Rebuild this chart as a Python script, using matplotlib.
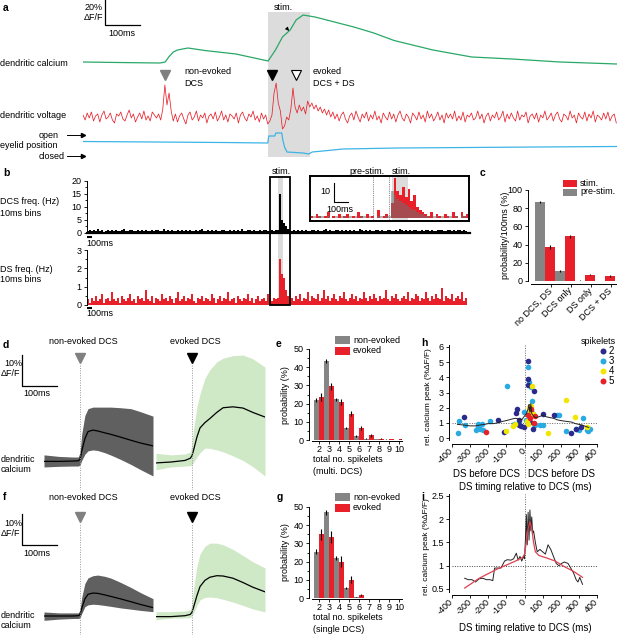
import numpy as np
import matplotlib
matplotlib.use('Agg')
import matplotlib.pyplot as plt
from matplotlib.patches import Rectangle
from matplotlib.lines import Line2D

plt.rcParams['font.family'] = ['Liberation Sans', 'DejaVu Sans']
plt.rcParams['axes.unicode_minus'] = False
plt.rcParams['font.size'] = 6.5

# ======================= DATA =======================
# ---- panel a (time in ms) ----
a_stim = (529, 649)
a_ca_t = [0, 100, 220, 235, 245, 258, 270, 300, 348, 437, 529, 550, 570, 592, 609, 629, 663, 774, 831, 889, 1000, 1111, 1226, 1363, 1526]
a_ca = [0.8, 0.4, 0, 0.8, 4.8, 8.8, 10.4, 12, 10, 7.2, 1.6, 10.4, 20.8, 26.4, 34.4, 38.4, 36.8, 28.8, 24, 18, 10.4, 4.8, 3.2, 0.8, -0.8]
a_v_dt = 6
a_v = [2, -3, 4, -1, 5, -4, 1, 3, -5, 2, 6, -2, 0, 4, -3, -6, 3, 1, 5, -2, -4, 2, 7, -1, 3, -5, 0, 4, -2, 6,
       -3, 1, -4, 5, 2, -1, 3, -3,
       8, 32, 12, 24, 6, -4,
       3, -5, 1, 4, -2, -7, 2, 5, -3, 0, 6, -4, 2, -1, 4, -6, 1, 3, -2, 5, -4, 0, 6, -3, 2, -5, 3, 1, -2, 4,
       -6, 2, 5, -1, -4, 3, 0, 6, -3, 1, -5, 4, -2, 2, -7,
       -4, 2, 24, 34, 14, 6, -12, -9, 0, -3, 8, 29, 10, 4, 12, 6, 10, 3,
       16, 10, 14, 8, 12, 6, 10, 4, 8, 2, 7, 0, 5, -2,
       3, -4, 2, 5, -2, -6, 1, 4, -3, 6, 0, -5, 3, -1, 5, -4, 2, -2, 6, -3,
       1, -6, 4, 0, -3, 5, -2, 3, -5, 2, 6, -1, -4, 3, 0, -6, 4, 1, -3, 5,
       -2, 2, -5, 6, -1, 3, -4, 0, 5, -3, 2, -6, 4, -1, 3, -2, 6, -4, 1, -3,
       5, -5, 2, 0, 4, -3, -1, 6, -2, 3, -6, 1, 4, -4, 2, -1, 5, -3, 0, 6,
       -5, 3, -2, 4, -1, -4, 6, -3, 2, 0, 5, -6, 1, 3, -2, 4, -5, 2, -1, 6,
       -3, 0, 4, -4, 2, 5, -2, -5, 3, 1, -3, 6, -1, 2, -6, 4, 0, -2, 5, -4,
       3, -1, 6, -5, 2, 0, -3, 4, -2, 5, -4, 1, 3, -6]
a_eye_t = [0, 200, 400, 528, 531, 548, 551, 568, 571, 576, 583, 629, 645, 655, 700, 743, 900, 1100, 1300, 1526]
a_eye = [1.5, 1, 0.5, 0, 7, 7, 10, 10, 3, -4, -9, -10, -11, -9, -7.5, -6, -5, -4.5, -4, -3.5]
a_tri_t = [234, 540, 609]

# ---- panel b (40 ms display bins, values in 0.1 Hz) ----
b_bin = 40
b_stim = (3820, 3920)
b_box = (3660, 4060)
b_dcs = [8, 12, 6, 10, 9, 14, 7, 11, 5, 9, 13, 8, 10, 6, 12, 9, 7, 11, 15, 8,
         6, 10, 12, 7, 9, 11, 8, 13, 6, 10, 9, 7, 12, 8, 11, 10, 6, 9, 14, 7,
         10, 8, 12, 9, 6, 11, 7, 13, 9, 10, 8, 12, 6, 9, 11, 7, 10, 15, 8, 9,
         12, 6, 10, 8, 11, 9, 7, 13, 10, 8, 6, 12, 9, 11, 7, 10, 8, 14, 9, 6,
         11, 10, 7, 12, 8, 9, 13, 6, 10, 11, 8, 7, 12, 9, 10,
         10, 150, 50, 40, 25, 15, 12,
         9, 11, 7, 12, 8, 10, 6, 13, 9, 8, 11, 10, 7, 12, 9, 6, 10, 14, 8, 11,
         7, 9, 12, 10, 8, 13, 6, 11, 9, 10, 7, 12, 8, 9, 15, 10, 6, 11, 8, 12,
         9, 7, 10, 13, 8, 11, 9, 6, 12, 10, 8, 9, 11, 7, 14, 10, 8, 12, 9, 11,
         7, 10, 13, 8, 9, 12, 6, 11, 10, 8, 12, 9, 7, 11, 10, 13, 8, 9, 12, 10,
         7, 11, 9, 10, 12, 8, 11, 9]
b_ds = [3, 1, 4, 2, 5, 2, 3, 6, 1, 3, 4, 2, 7, 3, 2, 4, 1, 5, 3, 2,
        4, 6, 2, 3, 1, 5, 3, 4, 2, 8, 3, 2, 5, 1, 4, 3, 2, 6, 3, 4,
        2, 5, 3, 1, 4, 7, 2, 3, 5, 2, 4, 3, 6, 2, 1, 4, 3, 5, 2, 4,
        3, 2, 6, 4, 1, 3, 5, 2, 4, 3, 7, 2, 3, 4, 1, 5, 3, 2, 4, 3,
        6, 2, 4, 1, 3, 5, 2, 3, 4, 2, 6, 3, 2, 4, 3,
        4, 25, 17, 15, 8, 5, 3,
        4, 2, 5, 3, 6, 2, 4, 3, 7, 2, 5, 4, 3, 6, 2, 4, 8, 3, 5, 2,
        4, 6, 3, 2, 5, 4, 7, 3, 2, 4, 6, 3, 5, 2, 4, 3, 7, 4, 2, 5,
        3, 6, 4, 2, 5, 3, 4, 8, 3, 2, 5, 4, 6, 3, 2, 4, 5, 3, 7, 2,
        4, 3, 6, 5, 2, 4, 3, 7, 4, 2, 5, 3, 6, 4, 3, 9, 2, 5, 4, 3,
        6, 2, 4, 5, 3, 7, 2, 4]
# inset (20 ms bins, Hz)
in_bin = 20
in_stim = (586, 700)
in_pre_lines = [450, 564]
in_red = [1, 0, 2, 1, 0, 1, 3, 0, 1, 0, 2, 0, 1, 2, 0, 1, 0, 3, 1, 0, 2, 0, 1, 0, 4, 0, 1, 2, 0,
          8, 21, 14, 12, 16, 11, 15, 9, 12, 6, 4, 3,
          2, 1, 3, 0, 2, 1, 0, 2, 1, 0, 3, 1, 0, 3, 1, 2]
in_gray = [0, 1, 0, 1, 1, 0, 1, 0, 0, 1, 0, 1, 1, 0, 1, 0, 1, 0, 1, 1, 0, 1, 0, 0, 1, 1, 0, 1, 1,
           14, 12, 10, 9, 8, 7, 6, 5, 4, 3, 2, 2,
           1, 1, 0, 1, 1, 0, 1, 0, 1, 1, 0, 1, 0, 1, 1, 0]

# ---- panel c ----
c_cats = ['no DCS, DS', 'DCS only', 'DS only', 'DCS + DS']
c_pre = [87, 11, 0.5, 0.2]
c_pre_err = [1.2, 1.2, 0.3, 0.2]
c_stim = [37, 49, 7, 5.5]
c_stim_err = [2.2, 1.8, 0.8, 0.8]

# ---- panels d / f (time ms, %dF/F) ----
df_t = [-103, -60, -20, -5, 0, 5, 14, 23, 37, 51, 71, 89, 117, 146, 174, 209]
d_non_mean = [0.2, 0.2, 0.3, 0.4, 0.8, 3.5, 7.5, 9.8, 10.3, 10, 9.4, 8.9, 8, 7, 6.1, 5.2]
d_non_hi = [2.3, 1.8, 1.6, 1.6, 3, 9, 15, 17.2, 17.7, 17.7, 17.7, 17.7, 17.5, 17.2, 16.2, 14.8]
d_non_lo = [-1.6, -1.4, -1.3, -1.3, -1, 0.5, 2.5, 3.6, 3.9, 3.7, 3, 2.2, 0.8, -0.8, -2.5, -4.5]
d_evk_mean = [-0.3, 0, 0.5, 1.2, 2, 4, 8, 11, 12.7, 14, 16, 17.5, 17.8, 17.4, 16, 14.5]
d_evk_hi = [2.8, 2.3, 2.6, 3.2, 6, 11, 17.7, 22, 27, 29.7, 32.3, 33.5, 34.3, 34.5, 33.3, 30.6]
d_evk_lo = [-2.5, -1.6, -1.3, -1.2, -1, 0, 1.6, 3, 4.5, 4.4, 3.9, 3.3, 2, 0.5, -1.5, -4.5]
f_non_mean = [0, 0, 0, 0.1, 0.4, 2.5, 5.5, 7, 7.4, 7.3, 6.8, 6.3, 5.5, 4.6, 3.7, 2.7]
f_non_hi = [1.3, 1, 1, 1, 1.8, 6, 10.5, 12.3, 13, 13.2, 12.8, 12.2, 10.8, 9.2, 7.5, 5.6]
f_non_lo = [-1.4, -1, -0.8, -0.8, -0.6, 0.8, 3, 3.6, 3.8, 3.7, 3.4, 3.1, 2.6, 2.2, 1.8, 1.4]
f_evk_mean = [-0.2, -0.2, 0.1, 0.5, 1.2, 3, 6.5, 9.5, 11.5, 12.5, 13, 12.9, 12.2, 10.8, 9.3, 7.8]
f_evk_hi = [1.4, 1.4, 1.6, 2, 4, 9, 16, 20, 22.5, 23.5, 23.5, 23, 21.5, 19.5, 17.5, 15.5]
f_evk_lo = [-1.2, -0.7, -0.6, -0.5, 0, 1, 3.5, 5.2, 6, 6.1, 5.9, 5.4, 4.5, 3.4, 2.3, 1.3]

# ---- panels e / g ----
eg_k = [2, 3, 4, 5, 6, 7, 8, 9, 10]
e_non = [22, 43.5, 22.5, 6.5, 2.2, 0.8, 0.5, 0.2, 0.1]
e_non_err = [1, 1, 0.8, 0.6, 0.4, 0.3, 0.2, 0.1, 0.1]
e_evk = [23.5, 29.5, 21, 14.5, 6.5, 2.5, 0.8, 0.5, 0.3]
e_evk_err = [2.2, 2, 1.8, 1.5, 1, 0.8, 0.3, 0.2, 0.2]
g_non = [25.5, 47, 22, 5.5, 0.3, 0, 0, 0, 0]
g_non_err = [1.2, 1.3, 1, 0.6, 0.2, 0, 0, 0, 0]
g_evk = [35, 33.5, 20, 10, 1.5, 0, 0, 0, 0]
g_evk_err = [3, 3.5, 3, 2, 0.5, 0, 0, 0, 0]

# ---- panel h ----
h_x2 = [-335, -145, -115, -45, -42, -30, -22, -33, 22, 18, 18, 55, 46, 28, 101, 162, 258, 285, 313, 28, 35, -5]
h_y2 = [1.36, 1.18, 0.41, 1.62, 1.89, 1.18, 0.78, 0.88, 5.09, 3.87, 3.5, 3.09, 0.61, 1.08, 1.58, 1.51, 0.35, 0.61, 0.7, 2.1, 1.8, 0.75]
h_x3 = [-360, -365, -330, -265, -255, -245, -235, -230, -190, -95, -60, -30, -5, 20, 25, 35, 40, 45, 50, 60,
        85, 100, 180, 190, 230, 285, 300, 320, 345, 350, 360, -255, 10]
h_y3 = [1.1, 0.35, 0.85, 0.55, 0.9, 0.6, 0.9, 0.55, 1.1, 3.45, 0.9, 1.05, 1.7, 4.7, 3.7, 3.35, 2.45, 1.6, 0.9, 0.85,
        0.85, 0.85, 1.55, 1.5, 0.45, 0.6, 0.55, 1.3, 0.55, 0.45, 0.6, 0.7, 1.2]
h_x4 = [-100, -65, -50, 40, 25, 30, 20, 45, 130, 230, 280, 345, 15, 35]
h_y4 = [0.45, 0.8, 0.95, 3.4, 2.0, 1.7, 0.9, 1.6, 0.35, 2.5, 1.4, 0.7, 1.1, 2.1]
h_x5 = [-210, 30, 50, 60, 20, 35]
h_y5 = [0.4, 1.3, 1.0, 1.45, 1.55, 1.9]
h_line_x = [-370, -330, -300, -270, -250, -220, -200, -170, -150, -120, -100, -70, -50, -30, -15, 0, 10, 20, 25, 30,
            35, 40, 50, 60, 80, 100, 120, 140, 160, 180, 200, 230, 260, 280, 300, 320, 340, 355]
h_line_y = [0.9, 0.85, 0.8, 0.8, 0.85, 0.9, 0.95, 0.95, 1.0, 1.1, 1.15, 1.25, 1.3, 1.25, 1.2, 1.45, 1.6, 1.9, 2.2, 1.7,
            2.25, 1.6, 1.45, 1.35, 1.4, 1.5, 1.4, 1.35, 1.3, 1.2, 1.15, 1.1, 1.05, 0.95, 0.9, 0.85, 0.75, 0.7]

# ---- panel i ----
i_x = [-330, -310, -290, -270, -250, -230, -210, -190, -175, -165, -150, -130, -110, -95, -75, -60, -45, -35, -25, -15,
       -5, 0, 5, 10, 15, 20, 25, 30, 35, 40, 45, 50, 60, 70, 85, 100, 115, 130, 145, 160,
       175, 190, 205, 220, 240, 255, 270, 285, 295, 305, 320]
i_y = [0.73, 0.7, 0.7, 0.65, 0.72, 0.73, 0.7, 0.7, 0.68, 0.95, 0.95, 0.95, 1.1, 1.13, 1.12, 1.15, 1.27, 1.12, 1.2, 1.1,
       1.2, 1.15, 1.55, 2.1, 1.45, 2.15, 1.55, 2.2, 1.75, 2.05, 1.7, 1.75, 1.5, 1.3, 1.35, 1.3, 1.25, 1.45, 1.35, 1.2,
       1.05, 1.0, 1.05, 1.08, 1.05, 0.95, 0.85, 0.7, 0.65, 0.75, 0.6]
i_fit_x = [-330, -250, -150, -50, -10, 0, 10, 20, 30, 40, 50, 60, 80, 120, 170, 220, 270, 320]
i_fit_y = [0.52, 0.73, 0.93, 1.1, 1.18, 1.25, 1.5, 1.8, 1.95, 1.8, 1.5, 1.3, 1.22, 1.17, 1.1, 0.98, 0.88, 0.75]

# ======================= STYLE =======================
RED = '#e8202a'
GREEN = '#2aa868'
EYE = '#3cb4e6'
STIMGRAY = '#dcdcdc'
BARGRAY = '#858585'
NAVY = '#2b2a8c'
LBLUE = '#29abe2'
YEL = '#f2e600'
BANDGRAY = '#606060'
BANDGREEN = '#cfe8c6'

W, H = 617, 635
fig = plt.figure(figsize=(W / 100, H / 100), dpi=100)


def ax_at(x0, y0, x1, y1):
    ax = fig.add_axes([x0 / W, 1 - y1 / H, (x1 - x0) / W, (y1 - y0) / H])
    ax.patch.set_alpha(0)
    return ax


def txt(x, y, s, **kw):
    kw.setdefault('va', 'center')
    fig.text(x / W, 1 - y / H, s, **kw)


def clean(ax):
    for s in ax.spines.values():
        s.set_visible(False)
    ax.set_xticks([])
    ax.set_yticks([])


def style(ax, bottom=True):
    ax.spines['top'].set_visible(False)
    ax.spines['right'].set_visible(False)
    ax.spines['bottom'].set_visible(bottom)
    for s in ax.spines.values():
        s.set_linewidth(0.7)
    ax.tick_params(which='both', length=2.5, width=0.6, labelsize=6.5, pad=1.5)
    ax.tick_params(which='minor', length=1.5)


def panel_label(x, y, s):
    txt(x, y, s, fontsize=7.5, fontweight='bold')

# ======================= PANEL A =======================
A_X0, A_X1 = 83, 617
a_xlim = (0, 1526)
bg = ax_at(A_X0, 12, A_X1, 157)
bg.set_xlim(a_xlim); bg.set_ylim(0, 1)
bg.axvspan(*a_stim, color=STIMGRAY, lw=0)
tri_y = 1 - (75 - 12) / 145
bg.plot([a_tri_t[0]], [tri_y], marker='v', ms=7, color='#808080', ls='')
bg.plot([a_tri_t[1]], [tri_y], marker='v', ms=7, color='k', ls='')
bg.plot([a_tri_t[2]], [tri_y], marker='v', ms=7, mfc='white', mec='k', mew=0.8, ls='')
clean(bg)

ax_ca = ax_at(A_X0, 0, A_X1, 80)
ax_ca.set_xlim(a_xlim); ax_ca.set_ylim(-13.6, 50.4)
ax_ca.plot(a_ca_t, a_ca, color=GREEN, lw=0.9)
ax_ca.plot([63, 63, 163], [50.4, 30.4, 30.4], color='k', lw=0.9, clip_on=False)
ax_ca.annotate('', xy=(594, 24), xytext=(577, 29.5),
               arrowprops=dict(arrowstyle='-|>', color='k', lw=0.6, mutation_scale=5))
clean(ax_ca)

ax_v = ax_at(A_X0, 80, A_X1, 135)
ax_v.set_xlim(a_xlim); ax_v.set_ylim(-18, 37)
ax_v.plot(np.arange(len(a_v)) * a_v_dt, a_v, color=RED, lw=0.55)
clean(ax_v)

ax_e = ax_at(A_X0, 128, A_X1, 160)
ax_e.set_xlim(a_xlim); ax_e.set_ylim(-17, 15)
ax_e.plot(a_eye_t, a_eye, color=EYE, lw=0.9)
clean(ax_e)

panel_label(3, 8, 'a')
txt(103, 8, '20%', ha='right')
txt(103, 18, 'ΔF/F', ha='right')
txt(108, 33, '100ms', ha='left')
txt(283, 7, 'stim.', ha='center')
txt(0, 63, 'dendritic calcium')
txt(0, 116, 'dendritic voltage')
txt(59, 135, 'open', ha='right')
txt(0, 146, 'eyelid position')
txt(65, 156, 'closed', ha='right')
for yy in (135, 156):
    fig.add_artist(Line2D([67 / W, 81 / W], [1 - yy / H] * 2, color='k', lw=0.7))
    fig.add_artist(Line2D([83 / W], [1 - yy / H], marker='>', ms=3, color='k'))
txt(184, 72, 'non-evoked', ha='left')
txt(184, 84, 'DCS', ha='left')
txt(313, 72, 'evoked', ha='left')
txt(313, 84, 'DCS + DS', ha='left')

# ======================= PANEL B =======================
B_X0, B_X1 = 87, 470
b_xlim = (0, 7660)
bgb = ax_at(B_X0, 176, B_X1, 306)
bgb.set_xlim(b_xlim); bgb.set_ylim(0, 1)
bgb.axvspan(*b_stim, color=STIMGRAY, lw=0)
clean(bgb)

ax_b1 = ax_at(B_X0, 178, B_X1, 233)
ax_b1.set_xlim(b_xlim); ax_b1.set_ylim(0, 21.15)
ax_b1.bar(np.arange(len(b_dcs)) * b_bin, np.array(b_dcs) / 10, width=b_bin, align='edge', color='k', lw=0)
style(ax_b1)
ax_b1.spines['bottom'].set_linewidth(1.6)
ax_b1.spines['left'].set_bounds(0, 20)
ax_b1.set_xticks([])
ax_b1.set_yticks([0, 5, 10, 15, 20])
ax_b1.set_yticks(np.arange(0, 20.1, 2.5), minor=True)
ax_b1.plot([0, 100], [-1.4, -1.4], color='k', lw=1.5, clip_on=False, solid_capstyle='butt')

ax_b2 = ax_at(B_X0, 248, B_X1, 306)
ax_b2.set_xlim(b_xlim); ax_b2.set_ylim(-0.055, 3.11)
ax_b2.bar(np.arange(len(b_ds)) * b_bin, np.array(b_ds) / 10, width=b_bin, align='edge', color=RED, lw=0)
style(ax_b2, bottom=False)
ax_b2.spines['left'].set_bounds(0, 3)
ax_b2.set_xticks([])
ax_b2.set_yticks([0, 1, 2, 3])
ax_b2.set_yticks(np.arange(0, 3.01, 0.5), minor=True)
ax_b2.plot([0, 100], [-0.14, -0.14], color='k', lw=1.5, clip_on=False, solid_capstyle='butt')

box = ax_at(B_X0, 176, B_X1, 306)
box.set_xlim(b_xlim); box.set_ylim(0, 1)
box.add_patch(Rectangle((b_box[0], 0.004), b_box[1] - b_box[0], 0.992, fill=False, ec='k', lw=1.3))
clean(box)

panel_label(3, 173, 'b')
txt(281, 171, 'stim.', ha='center')
txt(0, 202, 'DCS freq. (Hz)')
txt(0, 213, '10ms bins')
txt(0, 269, 'DS freq. (Hz)')
txt(0, 280, '10ms bins')
txt(86, 244, '100ms')
txt(86, 314, '100ms')

ax_in = ax_at(310, 176, 469, 221)
ax_in.set_xlim(0, 1140); ax_in.set_ylim(-1.5, 22)
ax_in.axvspan(*in_stim, color=STIMGRAY, lw=0)
for xv in in_pre_lines:
    ax_in.axvline(xv, color='#666666', lw=0.6, ls=(0, (1, 1.2)))
ax_in.bar(np.arange(len(in_red)) * in_bin, in_red, width=in_bin, align='edge', color=RED, lw=0)
ax_in.bar(np.arange(len(in_gray)) * in_bin, in_gray, width=in_bin, align='edge', color='#707070', alpha=0.55, lw=0)
ax_in.plot([171, 171, 271], [18.4, 8.4, 8.4], color='k', lw=0.8)
ax_in.set_xticks([]); ax_in.set_yticks([])
for s in ax_in.spines.values():
    s.set_linewidth(1.4)
txt(320, 192, '10')
txt(326, 209, '100ms')
txt(367, 171, 'pre-stim.', ha='center')
txt(401, 171, 'stim.', ha='center')

# ======================= PANEL C =======================
ax_c = ax_at(531, 190, 617, 281)
xc = np.arange(len(c_cats))
ax_c.bar(xc - 0.25, c_pre, width=0.5, color=BARGRAY, lw=0)
ax_c.bar(xc + 0.25, c_stim, width=0.5, color=RED, lw=0)
ax_c.errorbar(xc - 0.25, c_pre, yerr=c_pre_err, fmt='none', ecolor='k', elinewidth=0.8, capsize=0)
ax_c.errorbar(xc + 0.25, c_stim, yerr=c_stim_err, fmt='none', ecolor='k', elinewidth=0.8, capsize=0)
ax_c.set_xlim(-0.7, 3.6); ax_c.set_ylim(0, 100)
style(ax_c)
ax_c.spines['left'].set_position(('outward', 2))
ax_c.spines['bottom'].set_position(('outward', 2))
ax_c.set_yticks([0, 20, 40, 60, 80, 100])
ax_c.set_xticks(xc + 0.3)
ax_c.set_xticklabels(c_cats, rotation=45, ha='right', va='center', rotation_mode='anchor', fontsize=6.5)
panel_label(480, 173, 'c')
txt(505, 235, 'probability/100ms (%)', ha='center', rotation=90)
fig.add_artist(Rectangle((563 / W, 1 - 187 / H), 14 / W, 7 / H, color=RED, lw=0))
fig.add_artist(Rectangle((563 / W, 1 - 196 / H), 14 / W, 7 / H, color=BARGRAY, lw=0))
txt(580, 183, 'stim.')
txt(580, 192, 'pre-stim.')

# ======================= PANELS D / F =======================
def calcium_panel(x0, x1, ytop, ybot, base_px, mean, lo, hi, band, tri_color, tri_px, line_px):
    ax = ax_at(x0, ytop, x1, ybot)
    ax.set_xlim(-103, 209)
    ylo, yhi = (base_px - ybot) / 3.1, (base_px - ytop) / 3.1
    ax.set_ylim(ylo, yhi)
    ax.fill_between(df_t, lo, hi, color=band, lw=0)
    ax.plot(df_t, mean, color='k', lw=0.9)
    ax.plot([0, 0], [ylo, (base_px - line_px) / 3.1], color='#9a9a9a', lw=0.7, ls=(0, (1, 1.5)))
    ax.plot([0], [(base_px - tri_px) / 3.1], marker='v', ms=7, color=tri_color, ls='', clip_on=False)
    clean(ax)
    return ax


axd1 = calcium_panel(44, 153, 350, 490, 462, d_non_mean, d_non_lo, d_non_hi, BANDGRAY, '#808080', 358, 364)
axd2 = calcium_panel(156, 265, 350, 490, 462, d_evk_mean, d_evk_lo, d_evk_hi, BANDGREEN, 'k', 358, 364)
axd1.plot([-166, -166, -66], [34.5, 24.5, 24.5], color='k', lw=0.9, clip_on=False)
axf1 = calcium_panel(44, 153, 505, 635, 616, f_non_mean, f_non_lo, f_non_hi, BANDGRAY, '#808080', 517, 523)
axf2 = calcium_panel(156, 265, 505, 635, 616, f_evk_mean, f_evk_lo, f_evk_hi, BANDGREEN, 'k', 517, 523)
axf1.plot([-166, -166, -66], [32.9, 22.9, 22.9], color='k', lw=0.9, clip_on=False)

panel_label(3, 345, 'd')
txt(83, 341, 'non-evoked DCS', ha='center')
txt(195, 341, 'evoked DCS', ha='center')
txt(4, 363, '10%')
txt(1, 373, 'ΔF/F')
txt(23, 394, '100ms')
txt(1, 459, 'dendritic')
txt(1, 470, 'calcium')

panel_label(3, 497, 'f')
txt(83, 497, 'non-evoked DCS', ha='center')
txt(195, 497, 'evoked DCS', ha='center')
txt(4, 523, '10%')
txt(1, 533, 'ΔF/F')
txt(23, 553, '100ms')
txt(1, 615, 'dendritic')
txt(1, 626, 'calcium')

# ======================= PANELS E / G =======================
def spikelet_panel(ytop, ybot, non, non_err, evk, evk_err):
    ax = ax_at(312, ytop, 402, ybot)
    k = np.array(eg_k)
    ax.bar(k - 0.25, non, width=0.5, color=BARGRAY, lw=0)
    ax.bar(k + 0.25, evk, width=0.5, color=RED, lw=0)
    ax.errorbar(k - 0.25, non, yerr=non_err, fmt='none', ecolor='k', elinewidth=0.8, capsize=0)
    ax.errorbar(k + 0.25, evk, yerr=evk_err, fmt='none', ecolor='k', elinewidth=0.8, capsize=0)
    ax.set_xlim(1.3, 10.3); ax.set_ylim(0, 50)
    style(ax)
    ax.spines['left'].set_position(('outward', 2))
    ax.spines['bottom'].set_position(('outward', 1))
    ax.set_yticks([0, 10, 20, 30, 40, 50])
    ax.set_yticks(np.arange(0, 51, 5), minor=True)
    ax.set_xticks(k)
    ax.set_xticklabels([str(v) for v in eg_k], fontsize=6.5)
    ax.tick_params(axis='x', pad=0.8, length=2)
    return ax


spikelet_panel(349, 440, e_non, e_non_err, e_evk, e_evk_err)
spikelet_panel(507, 598, g_non, g_non_err, g_evk, g_evk_err)
panel_label(276, 344, 'e')
panel_label(277, 497, 'g')
for (yg, yr, yl1, yl2, lab2, yyl) in [(340, 351, 460, 471, '(multi. DCS)', 395), (497, 508, 618, 629, '(single DCS)', 552)]:
    fig.add_artist(Rectangle((335 / W, 1 - (yg + 4) / H), 15 / W, 8 / H, color=BARGRAY, lw=0))
    fig.add_artist(Rectangle((335 / W, 1 - (yr + 4) / H), 15 / W, 8 / H, color=RED, lw=0))
    txt(353, yg, 'non-evoked')
    txt(353, yr, 'evoked')
    txt(313, yl1, 'total no. spikelets')
    txt(313, yl2, lab2)
    txt(286, yyl, 'probability (%)', ha='center', rotation=90)

# ======================= PANEL H =======================
hticks = list(range(-400, 401, 100))
ax_h = ax_at(452, 345, 597, 440)
ax_h.set_xlim(-400, 400); ax_h.set_ylim(-0.13, 6.13)
ax_h.axhline(1, color='#666666', lw=0.7, ls=(0, (1, 1.5)))
ax_h.plot([0, 0], [6.13, -2.64], color='#666666', lw=0.7, ls=(0, (1, 1.5)), clip_on=False)
ax_h.scatter(h_x3, h_y3, s=16, color=LBLUE, lw=0, zorder=3)
ax_h.scatter(h_x2, h_y2, s=16, color=NAVY, lw=0, zorder=3)
ax_h.scatter(h_x4, h_y4, s=16, color=YEL, lw=0, zorder=3)
ax_h.scatter(h_x5, h_y5, s=16, color=RED, lw=0, zorder=3)
ax_h.plot(h_line_x, h_line_y, color='#222222', lw=0.7, zorder=4)
style(ax_h)
ax_h.spines['left'].set_position(('outward', 2))
ax_h.spines['bottom'].set_position(('outward', 3))
ax_h.set_yticks(range(0, 7))
ax_h.set_xticks(hticks)
ax_h.set_xticklabels([str(v) for v in hticks], rotation=45, ha='right', va='center', rotation_mode='anchor', fontsize=6.5)
ax_h.tick_params(axis='x', pad=1.5)
panel_label(421, 343, 'h')
txt(428, 397, 'rel. calcium peak (%ΔF/F)', ha='center', rotation=90, fontsize=6)
txt(487, 474, 'DS before DCS', ha='center', fontsize=7)
txt(561, 474, 'DCS before DS', ha='center', fontsize=7)
txt(525, 487, 'DS timing relative to DCS (ms)', ha='center', fontsize=7)
txt(616, 341, 'spikelets', ha='right')
for yy, col, lab in [(351, NAVY, '2'), (361, LBLUE, '3'), (371, YEL, '4'), (381, RED, '5')]:
    fig.add_artist(Line2D([603 / W], [1 - yy / H], marker='o', ms=4.3, color=col, mew=0, ls=''))
    txt(609, yy, lab, fontsize=7)

# ======================= PANEL I =======================
ax_i = ax_at(452, 494, 597, 592)
ax_i.set_xlim(-400, 400); ax_i.set_ylim(0.435, 2.543)
ax_i.axhline(1, color='#444444', lw=0.7, ls=(0, (1, 1.5)))
ax_i.axvline(0, color='#666666', lw=0.7, ls=(0, (1, 1.5)))
ax_i.plot(i_x, i_y, color='#222222', lw=0.7)
ax_i.plot(i_fit_x, i_fit_y, color='#e04050', lw=0.9)
style(ax_i)
ax_i.spines['left'].set_position(('outward', 2))
ax_i.spines['bottom'].set_position(('outward', 2))
ax_i.set_yticks([0.5, 1, 1.5, 2, 2.5])
ax_i.set_yticklabels(['0.5', '1', '1.5', '2', '2.5'])
ax_i.set_xticks(hticks)
ax_i.set_xticklabels([str(v) for v in hticks], rotation=45, ha='right', va='center', rotation_mode='anchor', fontsize=6.5)
ax_i.tick_params(axis='x', pad=1.5)
panel_label(421, 497, 'i')
txt(426, 547, 'rel. calcium peak (%ΔF/F)', ha='center', rotation=90, fontsize=6)
txt(525, 628, 'DS timing relative to DCS (ms)', ha='center', fontsize=7)

fig.savefig('out.png', dpi=100)
